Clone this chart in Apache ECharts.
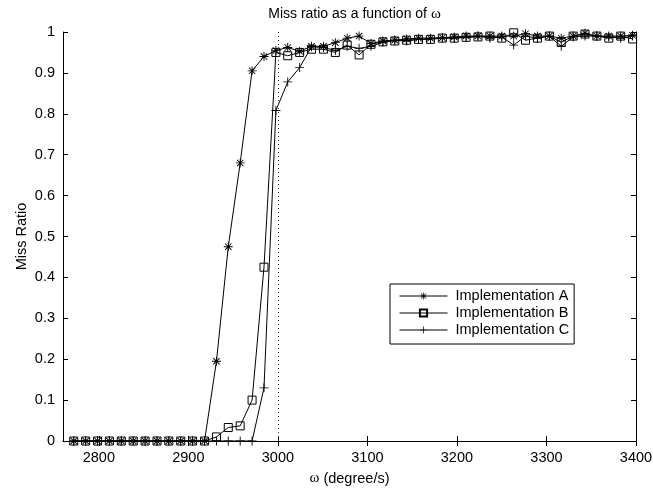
<!DOCTYPE html>
<html>
<head>
<meta charset="utf-8">
<script src="https://cdn.jsdelivr.net/npm/echarts@6/dist/echarts.min.js"></script>
<style>
html,body{margin:0;padding:0;background:#fff;}
#chart{width:653px;height:489px;}
</style>
</head>
<body>
<div id="chart"></div>
<script>
var omega = [2772, 2785.3, 2798.6, 2811.8, 2825.1, 2838.4, 2851.7, 2865, 2878.2, 2891.5, 2904.8, 2918.1,
  2931.4, 2944.6, 2957.9, 2971.2, 2984.5, 2997.8, 3011, 3024.3, 3037.6, 3050.9, 3064.2, 3077.4,
  3090.7, 3104, 3117.3, 3130.6, 3143.8, 3157.1, 3170.4, 3183.7, 3197, 3210.2, 3223.5, 3236.8,
  3250.1, 3263.4, 3276.6, 3289.9, 3303.2, 3316.5, 3329.8, 3343, 3356.3, 3369.6, 3382.9, 3396.2];
var implA = [0,0,0,0,0,0,0,0,0,0,0,0,
  0.195,0.475,0.68,0.905,0.94,0.955,
  0.962,0.953,0.965,0.965,0.974,0.985,0.99,0.972,
  0.978,0.98,0.983,0.985,0.985,0.986,0.988,0.99,
  0.99,0.99,0.99,0.99,0.996,0.99,0.99,0.985,
  0.99,0.997,0.99,0.99,0.99,0.992];
var implB = [0,0,0,0,0,0,0,0,0,0,0,0,
  0.01,0.033,0.037,0.1,0.425,0.95,
  0.942,0.95,0.958,0.958,0.95,0.968,0.944,0.97,
  0.976,0.978,0.98,0.982,0.982,0.985,0.985,0.987,
  0.988,0.99,0.985,0.998,0.98,0.985,0.99,0.975,
  0.99,0.995,0.99,0.985,0.99,0.983];
var implC = [0,0,0,0,0,0,0,0,0,0,0,0,0,0,0,0,
  0.13,0.808,0.878,0.913,
  0.964,0.962,0.955,0.965,0.96,0.965,0.975,0.98,
  0.978,0.982,0.984,0.986,0.985,0.987,0.99,0.985,
  0.988,0.968,0.99,0.985,0.99,0.965,0.988,0.99,
  0.99,0.988,0.985,0.99];
var seriesNames = ['Implementation A', 'Implementation B', 'Implementation C'];
var xTicks = [2800, 2900, 3000, 3100, 3200, 3300, 3400];
var thresholdOmega = 3000;
var titleText = 'Miss ratio as a function of ';
var xName = ' (degree/s)';
var yName = 'Miss Ratio';

function pairs(ys){ return omega.map(function(x,i){ return [x, ys[i]]; }); }

var starPath = 'path://M-0.1,-1 L0.1,-1 L0.1,1 L-0.1,1 Z M-1,-0.1 L1,-0.1 L1,0.1 L-1,0.1 Z ' +
  'M-0.636,-0.778 L0.778,0.636 L0.636,0.778 L-0.778,-0.636 Z ' +
  'M-0.778,0.636 L0.636,-0.778 L0.778,-0.636 L-0.636,0.778 Z';
var plusPath = 'path://M-0.1,-1 L0.1,-1 L0.1,1 L-0.1,1 Z M-1,-0.1 L1,-0.1 L1,0.1 L-1,0.1 Z';

var FONT = '"Liberation Sans", Arial, Helvetica, sans-serif';
var SERIF = '"Liberation Serif", "Times New Roman", serif';
var chart = echarts.init(document.getElementById('chart'), null, {renderer: 'canvas'});

var lineBase = {color: '#000', width: 1};
chart.setOption({
  animation: false,
  backgroundColor: '#fff',
  title: {
    text: '{a|' + titleText + '}{b|ω}',
    left: 349.5,
    textAlign: 'center',
    top: 2,
    textStyle: {
      fontWeight: 'normal',
      rich: {
        a: {fontFamily: FONT, fontSize: 14, fontWeight: 'normal', color: '#000'},
        b: {fontFamily: SERIF, fontSize: 15, fontWeight: 'normal', color: '#000'}
      }
    }
  },
  grid: {left: 63, right: 17, top: 32, bottom: 48, containLabel: false, outerBoundsMode: 'none'},
  legend: {
    orient: 'vertical',
    left: 390,
    top: 284,
    padding: [4, 5, 6, 9],
    backgroundColor: '#fff',
    borderColor: '#000',
    borderWidth: 1,
    borderRadius: 0,
    itemWidth: 48,
    itemHeight: 9,
    itemGap: 1,
    data: seriesNames,
    lineStyle: {width: 1},
    textStyle: {fontFamily: FONT, fontSize: 14.5, color: '#000', lineHeight: 16, padding: [0, 0, 0, 3]}
  },
  xAxis: [{
    type: 'value', min: 2760, max: 3400, position: 'bottom',
    name: '{b|ω}{a|' + xName + '}', nameLocation: 'middle', nameGap: 30, nameMoveOverlap: false,
    nameTextStyle: {rich: {
      a: {fontFamily: FONT, fontSize: 14.5, color: '#000'},
      b: {fontFamily: SERIF, fontSize: 15, color: '#000'}
    }},
    axisLine: {show: true, lineStyle: {color: '#000', width: 1}},
    axisTick: {show: true, inside: true, length: 5, customValues: xTicks, lineStyle: {color: '#000'}},
    axisLabel: {show: true, customValues: xTicks, margin: 9, fontFamily: FONT, fontSize: 14.5, color: '#000',
      formatter: function(v){ return String(v); }},
    splitLine: {show: false}
  }, {
    type: 'value', min: 2760, max: 3400, position: 'top',
    axisLine: {show: true, lineStyle: {color: '#000', width: 1}},
    axisTick: {show: true, inside: true, length: 5, customValues: xTicks, lineStyle: {color: '#000'}},
    axisLabel: {show: false},
    splitLine: {show: false}
  }],
  yAxis: [{
    type: 'value', min: 0, max: 1, interval: 0.1, position: 'left',
    name: yName, nameLocation: 'middle', nameGap: 34, nameRotate: 90, nameMoveOverlap: false,
    nameTextStyle: {fontFamily: FONT, fontSize: 14.5, color: '#000'},
    axisLine: {show: true, lineStyle: {color: '#000', width: 1}},
    axisTick: {show: true, inside: true, length: 5, lineStyle: {color: '#000'}},
    axisLabel: {show: true, margin: 8, fontFamily: FONT, fontSize: 14.5, color: '#000'},
    splitLine: {show: false}
  }, {
    type: 'value', min: 0, max: 1, interval: 0.1, position: 'right',
    axisLine: {show: true, lineStyle: {color: '#000', width: 1}},
    axisTick: {show: true, inside: true, length: 5, lineStyle: {color: '#000'}},
    axisLabel: {show: false},
    splitLine: {show: false}
  }],
  series: [{
    name: seriesNames[0], type: 'line', data: pairs(implA),
    symbol: starPath, symbolSize: 9, showAllSymbol: true,
    lineStyle: lineBase, itemStyle: {color: '#000', borderWidth: 0},
    markLine: {
      silent: true, symbol: 'none', animation: false,
      label: {show: false},
      lineStyle: {color: '#333', width: 1, type: [1, 3]},
      data: [[{coord: [thresholdOmega, 0]}, {coord: [thresholdOmega, 1]}]]
    }
  }, {
    name: seriesNames[1], type: 'line', data: pairs(implB),
    symbol: 'rect', symbolSize: 8, showAllSymbol: true,
    lineStyle: lineBase, itemStyle: {color: 'rgba(0,0,0,0)', borderColor: '#000', borderWidth: 1}
  }, {
    name: seriesNames[2], type: 'line', data: pairs(implC),
    symbol: plusPath, symbolSize: 9, showAllSymbol: true,
    lineStyle: lineBase, itemStyle: {color: '#000', borderWidth: 0}
  }]
});
</script>
</body>
</html>
